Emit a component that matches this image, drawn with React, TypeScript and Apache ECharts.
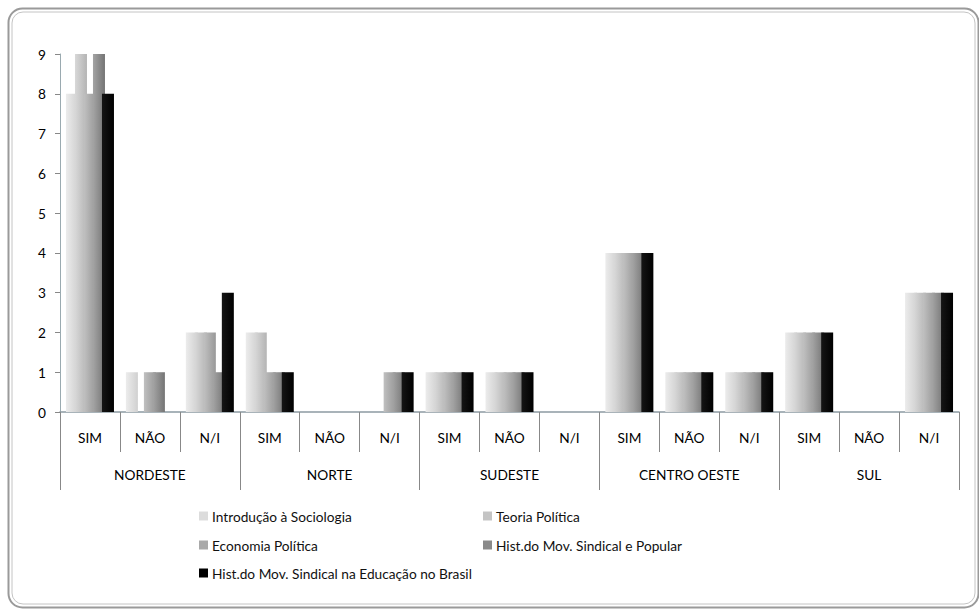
import React, { useEffect, useRef } from "react";
import * as echarts from "echarts";

// Sub-categories (answers) and regions
const answers = ["SIM", "NÃO", "N/I"];
const regions = ["NORDESTE", "NORTE", "SUDESTE", "CENTRO OESTE", "SUL"];
const categories = regions.flatMap(() => answers);

const seriesNames = [
  "Introdução à Sociologia",
  "Teoria Política",
  "Economia Política",
  "Hist.do Mov. Sindical e Popular",
  "Hist.do Mov. Sindical na Educação no Brasil",
];

// Counts per region × answer (SIM, NÃO, N/I for each region)
const introducao = [8, 1, 2, 2, 0, 0, 1, 1, 0, 4, 1, 1, 2, 0, 3];
const teoria = [9, 0, 2, 2, 0, 0, 1, 1, 0, 4, 1, 1, 2, 0, 3];
const economia = [8, 1, 2, 1, 0, 1, 1, 1, 0, 4, 1, 1, 2, 0, 3];
const histPopular = [9, 1, 1, 1, 0, 1, 1, 1, 0, 4, 1, 1, 2, 0, 3];
const histEducacao = [8, 0, 3, 1, 0, 1, 1, 1, 0, 4, 1, 1, 2, 0, 3];

const yTicks = [0, 1, 2, 3, 4, 5, 6, 7, 8, 9];

const seriesData = [introducao, teoria, economia, histPopular, histEducacao];

// Left/right shades for each bar's horizontal gradient
const shades: [string, string][] = [
  ["#ececec", "#d0d0d0"],
  ["#d8d8d8", "#b4b4b4"],
  ["#c0c0c0", "#989898"],
  ["#a4a4a4", "#747474"],
  ["#151515", "#000000"],
];
const legendColors = ["#dcdcdc", "#c4c4c4", "#a9a9a9", "#8a8a8a", "#000000"];

const FONT = "Lato, 'Open Sans', sans-serif";
const FS = 13.7;

const legendPos = [
  { left: 199, top: 509 },
  { left: 483, top: 509 },
  { left: 199, top: 538 },
  { left: 483, top: 538 },
  { left: 199, top: 566 },
];

export default function App() {
  const ref = useRef<HTMLDivElement>(null);

  useEffect(() => {
    if (!ref.current) return;
    const chart = echarts.init(ref.current, undefined, { renderer: "svg" });

    const series = seriesNames.map((name, i) => ({
      name,
      type: "bar",
      xAxisIndex: 0,
      barWidth: 12,
      barGap: "-25%",
      data: seriesData[i],
      itemStyle: {
        color: new echarts.graphic.LinearGradient(0, 0, 1, 0, [
          { offset: 0, color: shades[i][0] },
          { offset: 1, color: shades[i][1] },
        ]),
      },
    }));

    chart.setOption({
      animation: false,
      backgroundColor: "#ffffff",
      textStyle: { fontFamily: FONT },
      graphic: [
        {
          type: "rect",
          shape: { x: 8.5, y: 8.5, width: 970, height: 599, r: 14 },
          style: { fill: "none", stroke: "#9a9a9a", lineWidth: 2 },
          silent: true,
        },
        {
          type: "rect",
          shape: { x: 12, y: 12, width: 963, height: 592, r: 11 },
          style: { fill: "none", stroke: "#c4c4c4", lineWidth: 1 },
          silent: true,
        },
      ],
      legend: seriesNames.map((name, i) => ({
        data: [{ name, itemStyle: { color: legendColors[i] } }],
        left: legendPos[i].left,
        top: legendPos[i].top,
        padding: 0,
        icon: "rect",
        itemWidth: 9,
        itemHeight: 9,
        itemGap: 0,
        selectedMode: false,
        textStyle: { fontFamily: FONT, fontSize: FS, color: "#111", padding: [0, 0, 0, -1] },
      })),
      grid: { left: 60, right: 20, top: 54, bottom: 197, containLabel: false },
      xAxis: [
        {
          type: "category",
          data: categories,
          position: "bottom",
          axisLine: { lineStyle: { color: "#8c9aa2", width: 1.5 } },
          axisTick: { show: true, length: 40, interval: 0, lineStyle: { color: "#888" } },
          axisLabel: { interval: 0, margin: 18, fontSize: FS, color: "#000", fontFamily: FONT },
        },
        {
          type: "category",
          data: regions,
          position: "bottom",
          axisLine: { show: false },
          axisTick: { show: true, length: 78, interval: 0, lineStyle: { color: "#888" } },
          axisLabel: { interval: 0, margin: 55, fontSize: FS, color: "#000", fontFamily: FONT },
        },
      ],
      yAxis: {
        type: "value",
        min: yTicks[0],
        max: yTicks[yTicks.length - 1],
        interval: 1,
        axisLine: { show: true, lineStyle: { color: "#9aaab0", width: 1 } },
        axisTick: { show: true, length: 5, lineStyle: { color: "#888" } },
        axisLabel: { margin: 14, fontSize: FS, color: "#000", fontFamily: FONT },
        splitLine: { show: false },
      },
      series,
    });

    return () => chart.dispose();
  }, []);

  return (
    <div
      ref={ref}
      style={{ position: "absolute", left: 0, top: 0, width: 979, height: 609 }}
    />
  );
}
